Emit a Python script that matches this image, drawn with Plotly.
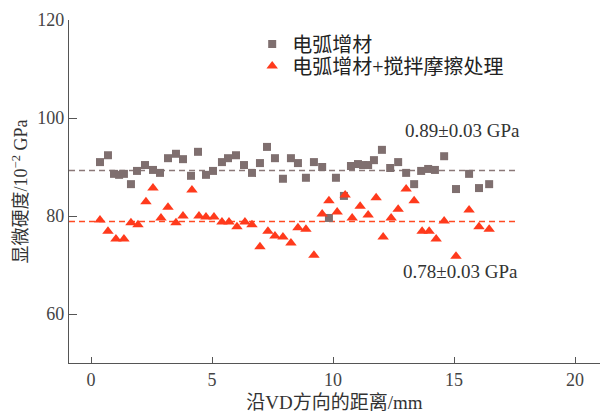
import plotly.graph_objects as go

# Data
gray_x = [0.37, 0.70, 0.95, 1.16, 1.36, 1.65, 1.90, 2.23, 2.56, 2.85, 3.18, 3.51, 3.80,
          4.13, 4.42, 4.75, 5.04, 5.41, 5.66, 5.99, 6.32, 6.65, 6.98, 7.27, 7.60, 7.93,
          8.26, 8.55, 8.88, 9.21, 9.55, 9.83, 10.12, 10.45, 10.74, 11.03, 11.24, 11.45,
          11.69, 12.02, 12.36, 12.69, 13.02, 13.35, 13.64, 13.93, 14.21, 14.59, 15.08,
          15.62, 16.03, 16.45]
gray_y = [91.0, 92.4, 88.6, 88.4, 88.6, 86.5, 89.2, 90.4, 89.4, 88.8, 91.8, 92.7, 91.6,
          88.2, 93.1, 88.4, 89.2, 91.0, 91.8, 92.4, 90.4, 88.8, 90.8, 94.1, 91.8, 87.6,
          91.8, 90.8, 87.8, 91.0, 90.0, 79.6, 87.8, 84.1, 90.2, 90.6, 90.4, 90.4,
          91.4, 93.5, 89.8, 91.0, 88.8, 86.5, 89.2, 89.6, 89.4, 92.2, 85.5,
          88.6, 85.7, 86.5]

red_x = [0.37, 0.70, 1.03, 1.36, 1.65, 1.94, 2.27, 2.56, 2.89, 3.18, 3.51, 3.80, 4.17,
         4.46, 4.75, 5.08, 5.41, 5.70, 6.03, 6.36, 6.65, 6.98, 7.31, 7.60, 7.93, 8.26,
         8.55, 8.88, 9.21, 9.55, 9.83, 10.17, 10.50, 10.79, 11.12, 11.45, 11.78, 12.07,
         12.40, 12.69, 13.02, 13.35, 13.68, 13.97, 14.26, 14.59, 15.08, 15.62, 16.03, 16.45]
red_y = [79.2, 76.9, 75.3, 75.3, 78.6, 78.2, 82.9, 85.7, 79.6, 81.8, 78.6, 80.0, 85.3,
         80.0, 79.8, 79.8, 78.8, 78.8, 77.8, 78.8, 78.2, 73.7, 76.9, 75.9, 75.7, 74.5,
         77.6, 77.3, 72.0, 80.4, 83.1, 80.8, 84.3, 79.6, 82.0, 80.2, 83.7, 75.7,
         79.6, 81.4, 85.5, 83.1, 76.9, 76.9, 75.3, 79.0, 71.8, 81.2, 77.8, 77.3]

series_names = ["电弧增材", "电弧增材+搅拌摩擦处理"]
mean_gray = 89.3
mean_red = 78.9
mean_x_range = [-0.91, 17.6]
label_gray = "0.89±0.03 GPa"
label_red = "0.78±0.03 GPa"

GRAY = "#7f6f6f"
RED = "#ff3a1c"
FONT = "Liberation Serif, Noto Sans CJK SC, serif"

fig = go.Figure()
fig.add_trace(go.Scatter(x=mean_x_range, y=[mean_gray, mean_gray], mode="lines",
                         line=dict(color="#8a7878", width=1.5, dash="6px,4px"),
                         showlegend=False, hoverinfo="skip"))
fig.add_trace(go.Scatter(x=mean_x_range, y=[mean_red, mean_red], mode="lines",
                         line=dict(color="#ff4a22", width=1.5, dash="6px,4px"),
                         showlegend=False, hoverinfo="skip"))
fig.add_trace(go.Scatter(x=gray_x, y=gray_y, mode="markers", name=series_names[0],
                         marker=dict(symbol="square", size=8, color=GRAY), legend="legend"))
fig.add_trace(go.Scatter(x=red_x, y=red_y, mode="markers", name=series_names[1],
                         marker=dict(symbol="triangle-up", size=10, color=RED), legend="legend2"))

fig.add_annotation(x=15.35, y=97.4, text=label_gray, showarrow=False,
                   font=dict(family=FONT, size=19, color="#333333"), xanchor="center", yanchor="middle")
fig.add_annotation(x=15.25, y=68.6, text=label_red, showarrow=False,
                   font=dict(family=FONT, size=19, color="#333333"), xanchor="center", yanchor="middle")

axis_common = dict(showline=True, linecolor="#555555", linewidth=1.2, ticks="inside",
                   tickcolor="#555555", showgrid=False, zeroline=False, mirror=False,
                   tickfont=dict(family=FONT, size=18, color="#444444"))

legend_common = dict(xanchor="left", yanchor="middle", bgcolor="rgba(0,0,0,0)",
                     font=dict(family=FONT, size=20, color="#222222"), itemwidth=30)

fig.update_layout(
    width=607, height=417,
    margin=dict(l=69, r=7, t=20, b=54, autoexpand=False),
    paper_bgcolor="white", plot_bgcolor="white",
    font=dict(family=FONT, color="#333333"),
    xaxis=dict(range=[-0.91, 21.03], tickvals=[0, 5, 10, 15, 20], ticklen=6,
               title=dict(text="沿VD方向的距离/mm", font=dict(family=FONT, size=19, color="#333333"), standoff=6),
               automargin=False, **axis_common),
    yaxis=dict(range=[50, 120], tickvals=[60, 80, 100, 120], ticklen=8,
               title=dict(text="显微硬度/10<sup>−2</sup> GPa", font=dict(family=FONT, size=18, color="#333333"), standoff=4),
               automargin=False, **axis_common),
    legend=dict(x=0.345, y=0.930, **legend_common),
    legend2=dict(x=0.345, y=0.866, **legend_common),
)

fig.write_html("out.html", config={"displayModeBar": False},
               post_script="document.body.style.margin='0';document.body.style.padding='0';")
